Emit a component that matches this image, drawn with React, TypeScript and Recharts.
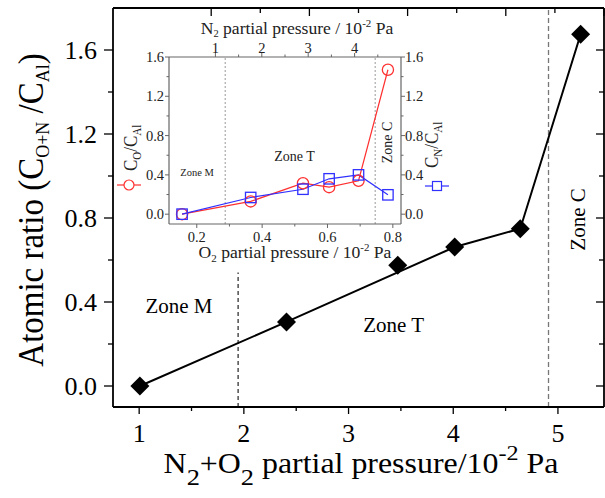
import React from 'react';
import { ComposedChart, Line, XAxis, YAxis, ReferenceLine, ReferenceDot } from 'recharts';

const SERIF = '"Liberation Serif", "Times New Roman", Times, serif';

// ---------- main chart data ----------
const totalPressure = [1.007, 2.407, 3.47, 4.014, 4.64, 5.217];
const atomicRatio = [0.0, 0.305, 0.575, 0.662, 0.749, 1.675];
const trendRatio: (number | null)[] = [0.0, 0.305, null, 0.662, 0.749, 1.675];

const mainXTicks = [1, 1.5, 2, 2.5, 3, 3.5, 4, 4.5, 5];
const mainXMajor = [1, 2, 3, 4, 5];
const mainYTicks = [0, 0.2, 0.4, 0.6, 0.8, 1.0, 1.2, 1.4, 1.6];
const mainYMajor = [0, 0.4, 0.8, 1.2, 1.6];
const zoneBoundaryLow = 1.945;
const zoneBoundaryHigh = 4.91;

// ---------- inset data ----------
const o2Pressure = [0.155, 0.365, 0.525, 0.605, 0.695, 0.785];
const oAlRatio = [0.0, 0.13, 0.315, 0.275, 0.34, 1.47];
const nAlRatio = [0.0, 0.17, 0.254, 0.36, 0.4, 0.197];

const insetXTicks = [0.2, 0.3, 0.4, 0.5, 0.6, 0.7, 0.8];
const insetXMajor = [0.2, 0.4, 0.6, 0.8];
const n2Ticks = [1, 1.5, 2, 2.5, 3, 3.5, 4, 4.5];
const n2Major = [1, 2, 3, 4];
const insetYTicks = [0, 0.2, 0.4, 0.6, 0.8, 1.0, 1.2, 1.4, 1.6];
const insetYMajor = [0, 0.4, 0.8, 1.2, 1.6];
const insetBoundaryLow = 0.287;
const insetBoundaryHigh = 0.746;

const mainRows = totalPressure.map((x, i) => ({ x, ratio: atomicRatio[i], trend: trendRatio[i] }));
const insetRows = o2Pressure.map((x, i) => ({ x, o: oAlRatio[i], n: nAlRatio[i] }));

type Side = 'bottom' | 'top' | 'left' | 'right';
interface TickOpts {
  side: Side;
  major: number[];
  majorLen: number;
  minorLen: number;
  outward: boolean;
  labels: boolean;
  fontSize?: number;
  off?: number;
  base?: number;
  color: string;
  labelColor?: string;
  sw: number;
  fmt?: (v: number) => string;
}

function makeTick(o: TickOpts) {
  return (props: any) => {
    const { x, y, payload, index } = props;
    const v = Number(payload?.value);
    const isMajor = o.major.some((m) => Math.abs(m - v) < 1e-6);
    const len = isMajor ? o.majorLen : o.minorLen;
    const s = o.outward ? 1 : -1;
    let x2 = x;
    let y2 = y;
    if (o.side === 'bottom') y2 = y + s * len;
    if (o.side === 'top') y2 = y - s * len;
    if (o.side === 'left') x2 = x - s * len;
    if (o.side === 'right') x2 = x + s * len;
    let label: React.ReactNode = null;
    if (o.labels && isMajor) {
      const txt = o.fmt ? o.fmt(v) : String(v);
      const off = o.off ?? 0;
      const base = o.base ?? 0;
      let lx = x;
      let ly = y;
      let anchor: 'middle' | 'end' | 'start' = 'middle';
      if (o.side === 'bottom') ly = y + off;
      if (o.side === 'top') ly = y - off;
      if (o.side === 'left') {
        lx = x - off;
        ly = y + base;
        anchor = 'end';
      }
      if (o.side === 'right') {
        lx = x + off;
        ly = y + base;
        anchor = 'start';
      }
      label = (
        <text x={lx} y={ly} textAnchor={anchor} fontFamily={SERIF} fontSize={o.fontSize} fill={o.labelColor ?? '#000'}>
          {txt}
        </text>
      );
    }
    return (
      <g key={`t-${o.side}-${index}`}>
        <line x1={x} y1={y} x2={x2} y2={y2} stroke={o.color} strokeWidth={o.sw} />
        {label}
      </g>
    );
  };
}

const f1 = (v: number) => v.toFixed(1);
const f0 = (v: number) => v.toFixed(0);

const mainBottomTick = makeTick({ side: 'bottom', major: mainXMajor, majorLen: 7, minorLen: 4, outward: true, labels: true, fontSize: 26, off: 35, color: '#000', sw: 1.3, fmt: f0 });
const mainTopTick = makeTick({ side: 'top', major: mainXMajor, majorLen: 8, minorLen: 5, outward: false, labels: false, color: '#000', sw: 1.3 });
const mainLeftTick = makeTick({ side: 'left', major: mainYMajor, majorLen: 9, minorLen: 5, outward: true, labels: true, fontSize: 26, off: 16, base: 9, color: '#000', sw: 1.3, fmt: f1 });
const mainRightTick = makeTick({ side: 'right', major: mainYMajor, majorLen: 8, minorLen: 5, outward: false, labels: false, color: '#000', sw: 1.3 });

const INSET_AXIS = '#666';
const INSET_TXT = '#222';
const insetBottomTick = makeTick({ side: 'bottom', major: insetXMajor, majorLen: 4, minorLen: 2.5, outward: true, labels: true, fontSize: 14.5, off: 18, color: INSET_AXIS, labelColor: INSET_TXT, sw: 1, fmt: f1 });
const insetTopTick = makeTick({ side: 'top', major: n2Major, majorLen: 4, minorLen: 2.5, outward: true, labels: true, fontSize: 14.5, off: 4.5, color: INSET_AXIS, labelColor: INSET_TXT, sw: 1, fmt: f0 });
const insetLeftTick = makeTick({ side: 'left', major: insetYMajor, majorLen: 4, minorLen: 2.5, outward: true, labels: true, fontSize: 14.5, off: 5, base: 5, color: INSET_AXIS, labelColor: INSET_TXT, sw: 1, fmt: f1 });
const insetRightTick = makeTick({ side: 'right', major: insetYMajor, majorLen: 4, minorLen: 2.5, outward: true, labels: true, fontSize: 14.5, off: 4, base: 5, color: INSET_AXIS, labelColor: INSET_TXT, sw: 1, fmt: f1 });

const preStyle: React.CSSProperties = { whiteSpace: 'pre' };

const mainXTitle = () => (
  <text transform="translate(361,473) scale(1.1,1)" textAnchor="middle" fontFamily={SERIF} fontSize={29} fill="#000" style={preStyle}>
    N<tspan fontSize={24} dy={12}>2</tspan>
    <tspan dy={-12}>+O</tspan>
    <tspan fontSize={24} dy={12}>2</tspan>
    <tspan dy={-12}> partial pressure/10</tspan>
    <tspan fontSize={22} dy={-13}>-2</tspan>
    <tspan dy={13}> Pa</tspan>
  </text>
);

const mainYTitle = () => (
  <text transform="translate(43,210) scale(1.1,1) rotate(-90)" textAnchor="middle" fontFamily={SERIF} fontSize={33} fill="#000" style={preStyle}>
    Atomic ratio (C<tspan fontSize={18} dy={5}>O+N</tspan>
    <tspan dy={-5}> /C</tspan>
    <tspan fontSize={18} dy={5}>Al</tspan>
    <tspan dy={-5}>)</tspan>
  </text>
);

const insetTopTitle = () => (
  <text transform="translate(297,34) scale(1.1,1)" textAnchor="middle" fontFamily={SERIF} fontSize={16} fill={INSET_TXT} style={preStyle}>
    N<tspan fontSize={9.5} dy={3.2}>2</tspan>
    <tspan dy={-3.2}> partial pressure / 10</tspan>
    <tspan fontSize={10} dy={-7}>-2</tspan>
    <tspan dy={7}> Pa</tspan>
  </text>
);

const insetBottomTitle = () => (
  <text transform="translate(295,258) scale(1.1,1)" textAnchor="middle" fontFamily={SERIF} fontSize={16} fill={INSET_TXT} style={preStyle}>
    O<tspan fontSize={10} dy={4}>2</tspan>
    <tspan dy={-4}> partial pressure / 10</tspan>
    <tspan fontSize={10} dy={-7}>-2</tspan>
    <tspan dy={7}> Pa</tspan>
  </text>
);

const RED = '#ff3030';
const BLUE = '#3030ff';

const insetLeftTitle = () => (
  <g>
    <text transform="translate(137,171) scale(1.1,1) rotate(-90)" textAnchor="start" fontFamily={SERIF} fontSize={17} fill={INSET_TXT} style={preStyle}>
      C<tspan fontSize={11} dy={4}>O</tspan>
      <tspan dy={-4}>/C</tspan>
      <tspan fontSize={11} dy={4}>Al</tspan>
    </text>
    <line x1={117} y1={185} x2={141} y2={185} stroke={RED} strokeWidth={1.2} />
    <circle cx={129} cy={185} r={5} fill="#fff" stroke={RED} strokeWidth={1.2} />
  </g>
);

const insetRightTitle = () => (
  <g>
    <text transform="translate(438,168) scale(1.1,1) rotate(-90)" textAnchor="start" fontFamily={SERIF} fontSize={17} fill={INSET_TXT} style={preStyle}>
      C<tspan fontSize={11} dy={4}>N</tspan>
      <tspan dy={-4}>/C</tspan>
      <tspan fontSize={11} dy={4}>Al</tspan>
    </text>
    <line x1={425} y1={186} x2={449} y2={186} stroke={BLUE} strokeWidth={1.2} />
    <rect x={432.5} y={181.5} width={9} height={9} fill="#fff" stroke={BLUE} strokeWidth={1.2} />
  </g>
);

function zoneLabel(text: string, fontSize: number, rotate: boolean, color: string) {
  return (props: any) => {
    const vb = props.viewBox || {};
    const cx = (vb.x ?? 0) + (vb.width ?? 0) / 2;
    const cy = (vb.y ?? 0) + (vb.height ?? 0) / 2;
    return (
      <text
        transform={`translate(${cx},${cy})${rotate ? ' rotate(-90)' : ''}`}
        textAnchor="middle"
        dominantBaseline="central"
        fontFamily={SERIF}
        fontSize={fontSize}
        fill={color}
      >
        {text}
      </text>
    );
  };
}

const Diamond = (props: any) => {
  const { cx, cy, index } = props;
  if (cx == null || cy == null || Number.isNaN(cx) || Number.isNaN(cy)) return <g key={`dm-${index}`} />;
  const r = 9.5;
  return <polygon key={`dm-${index}`} points={`${cx},${cy - r} ${cx + r},${cy} ${cx},${cy + r} ${cx - r},${cy}`} fill="#000" />;
};

const Circ = (props: any) => {
  const { cx, cy, index } = props;
  if (cx == null || cy == null) return <g key={`c-${index}`} />;
  return <circle key={`c-${index}`} cx={cx} cy={cy} r={5.6} fill="none" stroke={RED} strokeWidth={1.3} />;
};

const Sq = (props: any) => {
  const { cx, cy, index } = props;
  if (cx == null || cy == null) return <g key={`s-${index}`} />;
  const h = 5.2;
  return <rect key={`s-${index}`} x={cx - h} y={cy - h} width={2 * h} height={2 * h} fill="none" stroke={BLUE} strokeWidth={1.3} />;
};

const MAIN_X_DOMAIN: [number, number] = [0.75, 5.44];
const MAIN_Y_DOMAIN: [number, number] = [-0.1, 1.8];
const INSET_X_DOMAIN: [number, number] = [0.115, 0.825];
const N2_DOMAIN: [number, number] = [0.634, 4.66];
const INSET_Y_DOMAIN: [number, number] = [-0.1, 1.6];

const axisCommon = { tickLine: false, tickSize: 0, tickMargin: 0, interval: 0 as const, allowDataOverflow: true, type: 'number' as const };

function MainChart() {
  return (
    <ComposedChart width={605} height={498} data={mainRows} margin={{ top: 7, right: 0, bottom: 0, left: 0 }}>
      <XAxis xAxisId="bottom" dataKey="x" {...axisCommon} domain={MAIN_X_DOMAIN} ticks={mainXTicks} height={91} axisLine={{ stroke: '#000', strokeWidth: 1.8 }} tick={mainBottomTick} label={mainXTitle} />
      <XAxis xAxisId="top" orientation="top" {...axisCommon} domain={MAIN_X_DOMAIN} ticks={mainXTicks} height={1} axisLine={{ stroke: '#000', strokeWidth: 1.8 }} tick={mainTopTick} />
      <YAxis yAxisId="left" {...axisCommon} domain={MAIN_Y_DOMAIN} ticks={mainYTicks} width={113} axisLine={{ stroke: '#000', strokeWidth: 1.8 }} tick={mainLeftTick} label={mainYTitle} />
      <YAxis yAxisId="right" orientation="right" {...axisCommon} domain={MAIN_Y_DOMAIN} ticks={mainYTicks} width={1} axisLine={{ stroke: '#000', strokeWidth: 1.8 }} tick={mainRightTick} />
      <ReferenceLine xAxisId="bottom" yAxisId="left" x={zoneBoundaryHigh} stroke="#777" strokeWidth={1.3} strokeDasharray="5 3" />
      <ReferenceLine xAxisId="bottom" yAxisId="left" segment={[{ x: zoneBoundaryLow, y: -0.1 }, { x: zoneBoundaryLow, y: 0.54 }]} stroke="#222" strokeWidth={1.2} strokeDasharray="4 3" />
      <Line xAxisId="bottom" yAxisId="left" type="linear" dataKey="trend" stroke="#000" strokeWidth={2} dot={false} activeDot={false} connectNulls isAnimationActive={false} />
      <Line xAxisId="bottom" yAxisId="left" type="linear" dataKey="ratio" stroke="none" strokeWidth={0} dot={Diamond} activeDot={false} isAnimationActive={false} />
      <ReferenceDot xAxisId="bottom" yAxisId="left" x={1.38} y={0.38} r={0} fill="none" stroke="none" label={zoneLabel('Zone M', 21, false, '#000')} />
      <ReferenceDot xAxisId="bottom" yAxisId="left" x={3.43} y={0.29} r={0} fill="none" stroke="none" label={zoneLabel('Zone T', 21, false, '#000')} />
      <ReferenceDot xAxisId="bottom" yAxisId="left" x={5.196} y={0.793} r={0} fill="none" stroke="none" label={zoneLabel('Zone C', 21, true, '#000')} />
    </ComposedChart>
  );
}

function InsetChart() {
  return (
    <ComposedChart width={605} height={498} data={insetRows} margin={{ top: 0, right: 140, bottom: 228, left: 120 }}>
      <XAxis xAxisId="bottom" dataKey="x" {...axisCommon} domain={INSET_X_DOMAIN} ticks={insetXTicks} height={46} axisLine={{ stroke: INSET_AXIS, strokeWidth: 1.2 }} tick={insetBottomTick} label={insetBottomTitle} />
      <XAxis xAxisId="top" orientation="top" {...axisCommon} domain={N2_DOMAIN} ticks={n2Ticks} height={57} axisLine={{ stroke: INSET_AXIS, strokeWidth: 1.2 }} tick={insetTopTick} label={insetTopTitle} />
      <YAxis yAxisId="left" {...axisCommon} domain={INSET_Y_DOMAIN} ticks={insetYTicks} width={49} axisLine={{ stroke: INSET_AXIS, strokeWidth: 1.2 }} tick={insetLeftTick} label={insetLeftTitle} />
      <YAxis yAxisId="right" orientation="right" {...axisCommon} domain={INSET_Y_DOMAIN} ticks={insetYTicks} width={64} axisLine={{ stroke: INSET_AXIS, strokeWidth: 1.2 }} tick={insetRightTick} label={insetRightTitle} />
      <ReferenceLine xAxisId="bottom" yAxisId="left" x={insetBoundaryLow} stroke="#999" strokeWidth={1} strokeDasharray="2 2" />
      <ReferenceLine xAxisId="bottom" yAxisId="left" x={insetBoundaryHigh} stroke="#999" strokeWidth={1} strokeDasharray="2 2" />
      <Line xAxisId="bottom" yAxisId="left" type="linear" dataKey="o" stroke={RED} strokeWidth={1.2} dot={Circ} activeDot={false} isAnimationActive={false} />
      <Line xAxisId="bottom" yAxisId="left" type="linear" dataKey="n" stroke={BLUE} strokeWidth={1.2} dot={Sq} activeDot={false} isAnimationActive={false} />
      <ReferenceDot xAxisId="bottom" yAxisId="left" x={0.2007} y={0.42} r={0} fill="none" stroke="none" label={zoneLabel('Zone M', 10.5, false, INSET_TXT)} />
      <ReferenceDot xAxisId="bottom" yAxisId="left" x={0.499} y={0.583} r={0} fill="none" stroke="none" label={zoneLabel('Zone T', 14, false, INSET_TXT)} />
      <ReferenceDot xAxisId="bottom" yAxisId="left" x={0.785} y={0.73} r={0} fill="none" stroke="none" label={zoneLabel('Zone C', 14, true, INSET_TXT)} />
    </ComposedChart>
  );
}

export default function App() {
  return (
    <div style={{ position: 'absolute', left: 0, top: 0, width: 605, height: 498, background: '#fff' }}>
      <div style={{ position: 'absolute', left: 0, top: 0 }}>
        <MainChart />
      </div>
      <div style={{ position: 'absolute', left: 0, top: 0 }}>
        <InsetChart />
      </div>
    </div>
  );
}
